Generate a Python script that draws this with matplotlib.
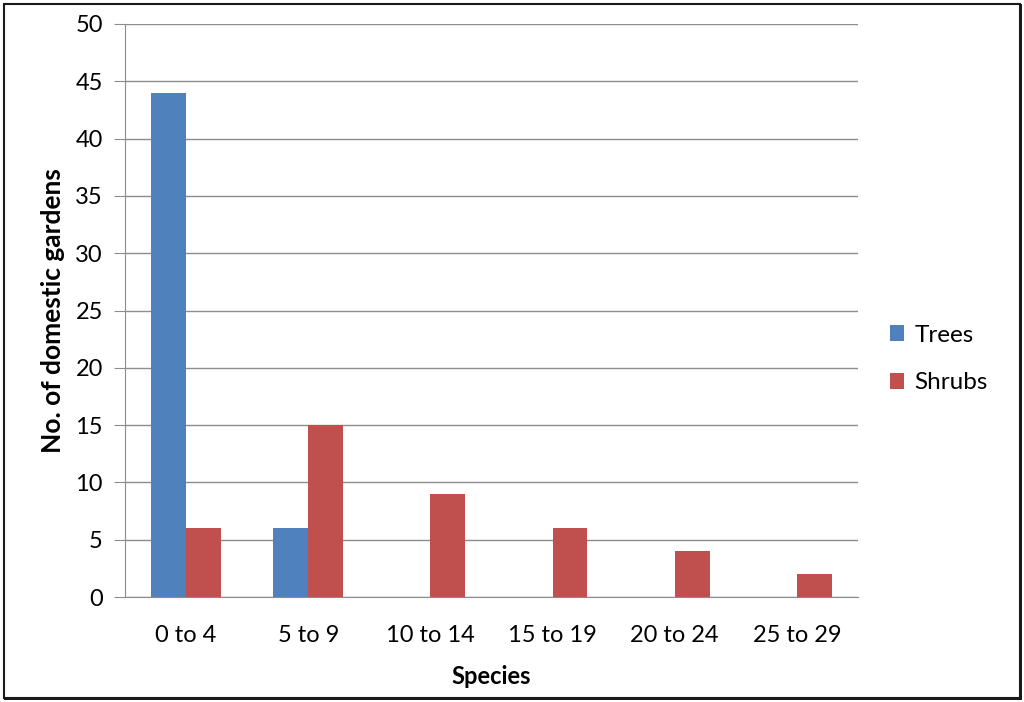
import matplotlib

matplotlib.use("Agg")
import matplotlib.pyplot as plt
from matplotlib.patches import Rectangle
import numpy as np

# Data
categories = ["0 to 4", "5 to 9", "10 to 14", "15 to 19", "20 to 24", "25 to 29"]
trees = [44, 6, 0, 0, 0, 0]
shrubs = [6, 15, 9, 6, 4, 2]

COLOR_TREES = "#4F81BD"
COLOR_SHRUBS = "#C0504D"
COLOR_GRID = "#8C8C8C"

plt.rcParams["font.family"] = ["Lato", "DejaVu Sans"]

W, H, dpi = 1024, 702, 100
fig = plt.figure(figsize=(W / dpi, H / dpi), dpi=dpi, facecolor="white")
ax = fig.add_axes([125 / W, 1 - 597 / H, (858 - 125) / W, (597 - 24) / H])

x = np.arange(len(categories))
bw = 1 / 3.5
ax.bar(x - bw / 2, trees, bw, color=COLOR_TREES, label="Trees", zorder=3)
ax.bar(x + bw / 2, shrubs, bw, color=COLOR_SHRUBS, label="Shrubs", zorder=3)

ax.set_xlim(-0.5, len(categories) - 0.5)
ax.set_ylim(0, 50)
ax.set_yticks(range(0, 51, 5))
ax.set_xticks(x)
ax.set_xticklabels(categories)
ax.yaxis.grid(True, color=COLOR_GRID, linewidth=1, zorder=0)
ax.tick_params(axis="y", length=8, color=COLOR_GRID, labelsize=17, pad=8)
ax.tick_params(axis="x", length=0, labelsize=17, pad=20)
for side in ["top", "right"]:
    ax.spines[side].set_visible(False)
for side in ["left", "bottom"]:
    ax.spines[side].set_color(COLOR_GRID)

ax.set_ylabel("No. of domestic gardens", fontsize=19, fontweight="bold")
# label x is the right edge of the rotated text
ax.yaxis.set_label_coords((65 - 125) / 733, 0.5)
ax.set_xlabel("Species", fontsize=17, fontweight="bold", labelpad=14)

fig.legend(loc="center left", bbox_to_anchor=(868 / W, 1 - 359 / H),
           frameon=False, fontsize=17.5, handlelength=0.6, handleheight=0.6,
           handletextpad=0.4, labelspacing=1.1)

# Outer border with a shadow on right and bottom
fig.patches.append(Rectangle((4 / W, 1 - 698 / H), 1016 / W, 694 / H,
                             transform=fig.transFigure, fill=False,
                             edgecolor="#1a1a1a", linewidth=1.5))
fig.patches.append(Rectangle((4 / W, 1 - 700 / H), 1018 / W, 3 / H,
                             transform=fig.transFigure, color="#1a1a1a", lw=0))
fig.patches.append(Rectangle((1019 / W, 1 - 700 / H), 3 / W, 696 / H,
                             transform=fig.transFigure, color="#1a1a1a", lw=0))

fig.savefig("out.png", dpi=dpi, facecolor="white")
